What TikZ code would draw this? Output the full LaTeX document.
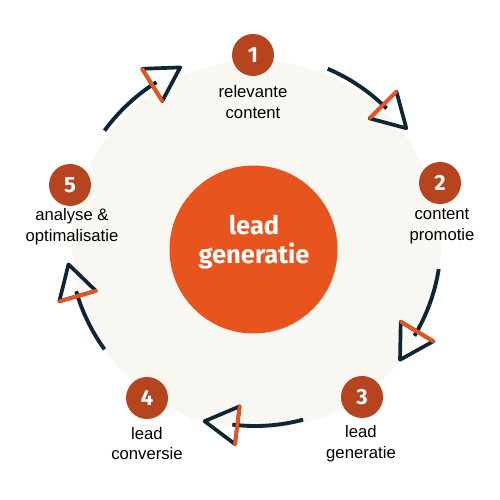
\documentclass[tikz,border=0pt]{standalone}
\usepackage{fontspec}
\setmainfont{Liberation Sans}
\newfontfamily\kopfont{Fira Sans}
\usetikzlibrary{calc}
\definecolor{cNavy}{HTML}{0E2535}
\definecolor{cOranje}{HTML}{E8541E}
\definecolor{cRoest}{HTML}{B5441F}
\definecolor{cCreme}{HTML}{F8F7F2}

\begin{document}
\begin{tikzpicture}[
    x=1cm, y=1cm,
    bgdisc/.style={fill=cCreme, draw=none},
    hub/.style={circle, fill=cOranje, minimum size=3.36cm, inner sep=0pt},
    hubtxt/.style={text=white, align=center, inner sep=0pt,
                font=\kopfont\bfseries\fontsize{14.5}{16.2}\selectfont},
    num/.style={circle, fill=cRoest, minimum size=0.84cm, inner sep=0pt,
                text=white, font=\kopfont\bfseries\fontsize{12.5}{12.5}\selectfont},
    txt/.style={align=center, inner sep=1pt,
                font=\fontsize{9.5}{11.6}\selectfont},
    flow/.style={cNavy, line width=2.2pt},
    tip/.style={cNavy, line width=2.1pt, line join=round},
    tipbase/.style={cOranje, line width=2.1pt, line cap=round},
]
\useasboundingbox (0,0) rectangle (10,10);

% ===========================================================================
% achtergrond en kern
% ===========================================================================
\coordinate (c) at (5.10,5.20);
\fill[bgdisc] (5.13,5.10) circle (3.69);

\node[hub] (kern) at (5.07,5.01) {};
\node[hubtxt] (kerntekst) at (5.08,5.16) {lead\\generatie};

% ----- stappen -----
\node[num] (n1) at (5.06,8.90) {1};
\node[num] (n2) at (8.80,6.34) {2};
\node[num] (n3) at (7.24,2.06) {3};
\node[num] (n4) at (2.94,2.04) {4};
\node[num] (n5) at (1.40,6.30) {5};

\node[txt] (l1) at (5.06,7.96) {relevante\\content};
\node[txt] (l2) at (8.84,5.47) {content\\promotie};
\node[txt] (l3) at (7.22,1.13) {lead\\generatie};
\node[txt] (l4) at (2.94,1.13) {lead\\conversie};
\node[txt] (l5) at (1.44,5.47) {analyse \&\\optimalisatie};

% ===========================================================================
% pijlen tussen de stappen (met de klok mee)
% ===========================================================================
\foreach \s/\e/\p in {67/45/a, -9/-31/b, -75/-97/c, -144/-164/d, 144/122/e} {
    \draw[flow] ($(c)+(\s:3.72)$) arc[start angle=\s, end angle=\e, radius=3.72]
          coordinate (eind\p);
    \begin{scope}[shift={(eind\p)}, rotate=\e-90]
        \draw[tip] (-0.1,-0.38) -- (0.56,0) -- (-0.1,0.38) -- cycle;
        \draw[tipbase] (-0.1,-0.38) -- (-0.1,0.38);
    \end{scope}
}

\end{tikzpicture}
\end{document}
